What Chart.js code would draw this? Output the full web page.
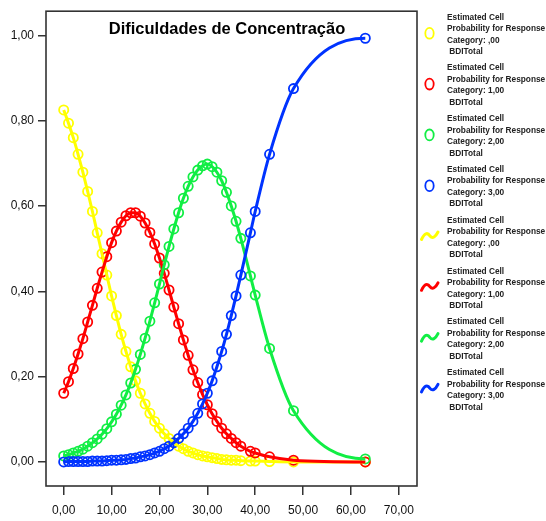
<!DOCTYPE html>
<html>
<head>
<meta charset="utf-8">
<script src="https://cdn.jsdelivr.net/npm/chart.js@4.4.1/dist/chart.umd.min.js"></script>
<style>
  body { margin: 0; background: #fff; }
  canvas { display: block; }
</style>
</head>
<body>
<canvas id="myChart" width="546" height="521"></canvas>
<script>
var chartTitle = 'Dificuldades de Concentração';

// observed BDITotal scores
var bdiTotal = [0, 1, 2, 3, 4, 5, 6, 7, 8, 9, 10, 11, 12, 13, 14, 15, 16, 17, 18, 19,
  20, 21, 22, 23, 24, 25, 26, 27, 28, 29, 30, 31, 32, 33, 34, 35, 36, 37, 39, 40, 43, 48, 63];

// estimated cell probability per response category
var probCat0 = [0.825, 0.794, 0.760, 0.721, 0.679, 0.634, 0.587, 0.537, 0.488, 0.438,
  0.389, 0.343, 0.299, 0.259, 0.223, 0.190, 0.161, 0.136, 0.114, 0.095,
  0.079, 0.066, 0.055, 0.045, 0.037, 0.031, 0.025, 0.021, 0.017, 0.014,
  0.012, 0.010, 0.008, 0.006, 0.005, 0.004, 0.004, 0.003, 0.002, 0.002, 0.001, 0.000, 0.000];
var probCat1 = [0.161, 0.188, 0.219, 0.253, 0.289, 0.328, 0.367, 0.407, 0.445, 0.481,
  0.514, 0.541, 0.562, 0.577, 0.584, 0.584, 0.576, 0.560, 0.538, 0.511,
  0.478, 0.442, 0.403, 0.363, 0.324, 0.286, 0.250, 0.216, 0.186, 0.158,
  0.134, 0.113, 0.095, 0.079, 0.066, 0.055, 0.045, 0.037, 0.025, 0.021, 0.012, 0.004, 0.000];
var probCat2 = [0.014, 0.017, 0.021, 0.025, 0.030, 0.037, 0.045, 0.054, 0.065, 0.078,
  0.094, 0.112, 0.133, 0.157, 0.185, 0.217, 0.252, 0.290, 0.330, 0.373,
  0.417, 0.462, 0.505, 0.546, 0.584, 0.618, 0.646, 0.668, 0.684, 0.694,
  0.698, 0.692, 0.679, 0.659, 0.632, 0.600, 0.564, 0.524, 0.436, 0.391, 0.266, 0.120, 0.007];
var probCat3 = [0.000, 0.001, 0.001, 0.001, 0.001, 0.001, 0.002, 0.002, 0.002, 0.003,
  0.004, 0.004, 0.005, 0.006, 0.008, 0.009, 0.012, 0.014, 0.017, 0.021,
  0.025, 0.031, 0.037, 0.045, 0.055, 0.066, 0.079, 0.095, 0.114, 0.136,
  0.161, 0.190, 0.223, 0.259, 0.299, 0.343, 0.389, 0.438, 0.537, 0.587, 0.721, 0.875, 0.993];

var categoryNames = [',00', '1,00', '2,00', '3,00'];
var seriesColors = ['#ffff00', '#ff0000', '#11ee44', '#0033ff'];

var xTickValues = [0, 10, 20, 30, 40, 50, 60, 70];
var yTickValues = [0, 0.2, 0.4, 0.6, 0.8, 1.0];

var FONT = '"Liberation Sans", Arial, sans-serif';
Chart.defaults.font.family = FONT;
Chart.defaults.color = '#111';

function points(values) {
  return bdiTotal.map(function (x, i) { return { x: x, y: values[i] }; });
}

var allProbs = [probCat0, probCat1, probCat2, probCat3];
var datasets = [];

// observed cases drawn as hollow circles
allProbs.forEach(function (vals, i) {
  datasets.push({
    label: 'Estimated Cell Probability for Response Category: ' + categoryNames[i] + ' BDITotal',
    data: points(vals),
    showLine: false,
    pointStyle: 'circle',
    pointRadius: 4.6,
    pointBorderWidth: 1.8,
    pointBackgroundColor: 'rgba(0,0,0,0)',
    pointBorderColor: seriesColors[i],
    order: 8 - i
  });
});

// smoothed fit lines on top
allProbs.forEach(function (vals, i) {
  datasets.push({
    type: 'line',
    label: 'Estimated Cell Probability for Response Category: ' + categoryNames[i] + ' BDITotal',
    data: points(vals),
    showLine: true,
    cubicInterpolationMode: 'monotone',
    borderColor: seriesColors[i],
    borderWidth: 3,
    pointRadius: 0,
    fill: false,
    order: 4 - i
  });
});

function commaFormat(v) {
  return Number(v).toFixed(2).replace('.', ',');
}

// let the fit curves level off at the last score instead of ending on the chord slope
var flatEndPlugin = {
  id: 'flatEnd',
  beforeDatasetDraw: function (chart, args) {
    var meta = args.meta;
    if (!meta.dataset || !chart.data.datasets[args.index].showLine) return;
    meta.dataset.updateControlPoints(chart.chartArea, 'x');
    var pts = meta.data;
    var last = pts[pts.length - 1];
    last.cp1y = last.y;
  }
};

var framePlugin = {
  id: 'frameAndTitle',
  beforeDatasetsDraw: function (chart) {
    var a = chart.chartArea;
    var ctx = chart.ctx;
    ctx.save();
    ctx.strokeStyle = '#333';
    ctx.lineWidth = 1.6;
    ctx.strokeRect(a.left, a.top, a.right - a.left, a.bottom - a.top);
    ctx.fillStyle = '#000';
    ctx.font = 'bold 16.5px ' + FONT;
    ctx.textAlign = 'center';
    ctx.textBaseline = 'alphabetic';
    ctx.fillText(chartTitle, (a.left + a.right) / 2 - 4.5, a.top + 22.5);
    ctx.restore();
  },
  afterDraw: function (chart) {
    var ctx = chart.ctx;
    var x0 = chart.chartArea.right;
    ctx.save();
    for (var i = 0; i < 8; i++) {
      var cat = i % 4;
      var top = 17.3 + 50.8 * i;
      var lines = ['Estimated Cell', 'Probability for Response', 'Category: ' + categoryNames[cat], ' BDITotal'];
      ctx.font = 'bold 8.3px ' + FONT;
      ctx.fillStyle = '#222';
      ctx.textAlign = 'left';
      ctx.textBaseline = 'middle';
      for (var k = 0; k < lines.length; k++) {
        ctx.fillText(lines[k], x0 + 30, top + 11.5 * k);
      }
      ctx.strokeStyle = seriesColors[cat];
      if (i < 4) {
        ctx.lineWidth = 1.8;
        ctx.beginPath();
        ctx.ellipse(x0 + 12.5, top + 16, 4.2, 5.4, 0, 0, Math.PI * 2);
        ctx.stroke();
      } else {
        var c = top + 15.5;
        var l = x0 + 4.5;
        ctx.lineWidth = 3;
        ctx.lineCap = 'round';
        ctx.beginPath();
        ctx.moveTo(l, c + 3.5);
        ctx.bezierCurveTo(l + 3, c - 3, l + 6, c - 4, l + 8.5, c);
        ctx.bezierCurveTo(l + 11, c + 3, l + 14, c + 1, l + 16.5, c - 4);
        ctx.stroke();
      }
    }
    ctx.restore();
  }
};

var ctx = document.getElementById('myChart').getContext('2d');
var chart = new Chart(ctx, {
  type: 'scatter',
  data: { datasets: datasets },
  options: {
    responsive: false,
    animation: false,
    layout: { padding: { top: 7, right: 129, left: 0, bottom: 0 } },
    plugins: {
      legend: { display: false },
      tooltip: { enabled: false },
      title: { display: false }
    },
    scales: {
      x: {
        type: 'linear',
        min: -3.7,
        max: 73.8,
        afterBuildTicks: function (scale) {
          scale.ticks = xTickValues.map(function (v) { return { value: v }; });
        },
        afterFit: function (scale) { scale.height = 35; },
        ticks: { callback: commaFormat, font: { size: 12 }, padding: 8, color: '#111', maxRotation: 0 },
        grid: { drawOnChartArea: false, drawTicks: true, tickLength: 9, color: '#333', lineWidth: 1.5 },
        border: { display: false }
      },
      y: {
        type: 'linear',
        min: -0.0564,
        max: 1.0564,
        afterBuildTicks: function (scale) {
          scale.ticks = yTickValues.map(function (v) { return { value: v }; });
        },
        afterFit: function (scale) { scale.width = 46; },
        ticks: { callback: commaFormat, font: { size: 12 }, padding: 4, color: '#111' },
        grid: { drawOnChartArea: false, drawTicks: true, tickLength: 8, color: '#333', lineWidth: 1.5 },
        border: { display: false }
      }
    }
  },
  plugins: [flatEndPlugin, framePlugin]
});
</script>
</body>
</html>
